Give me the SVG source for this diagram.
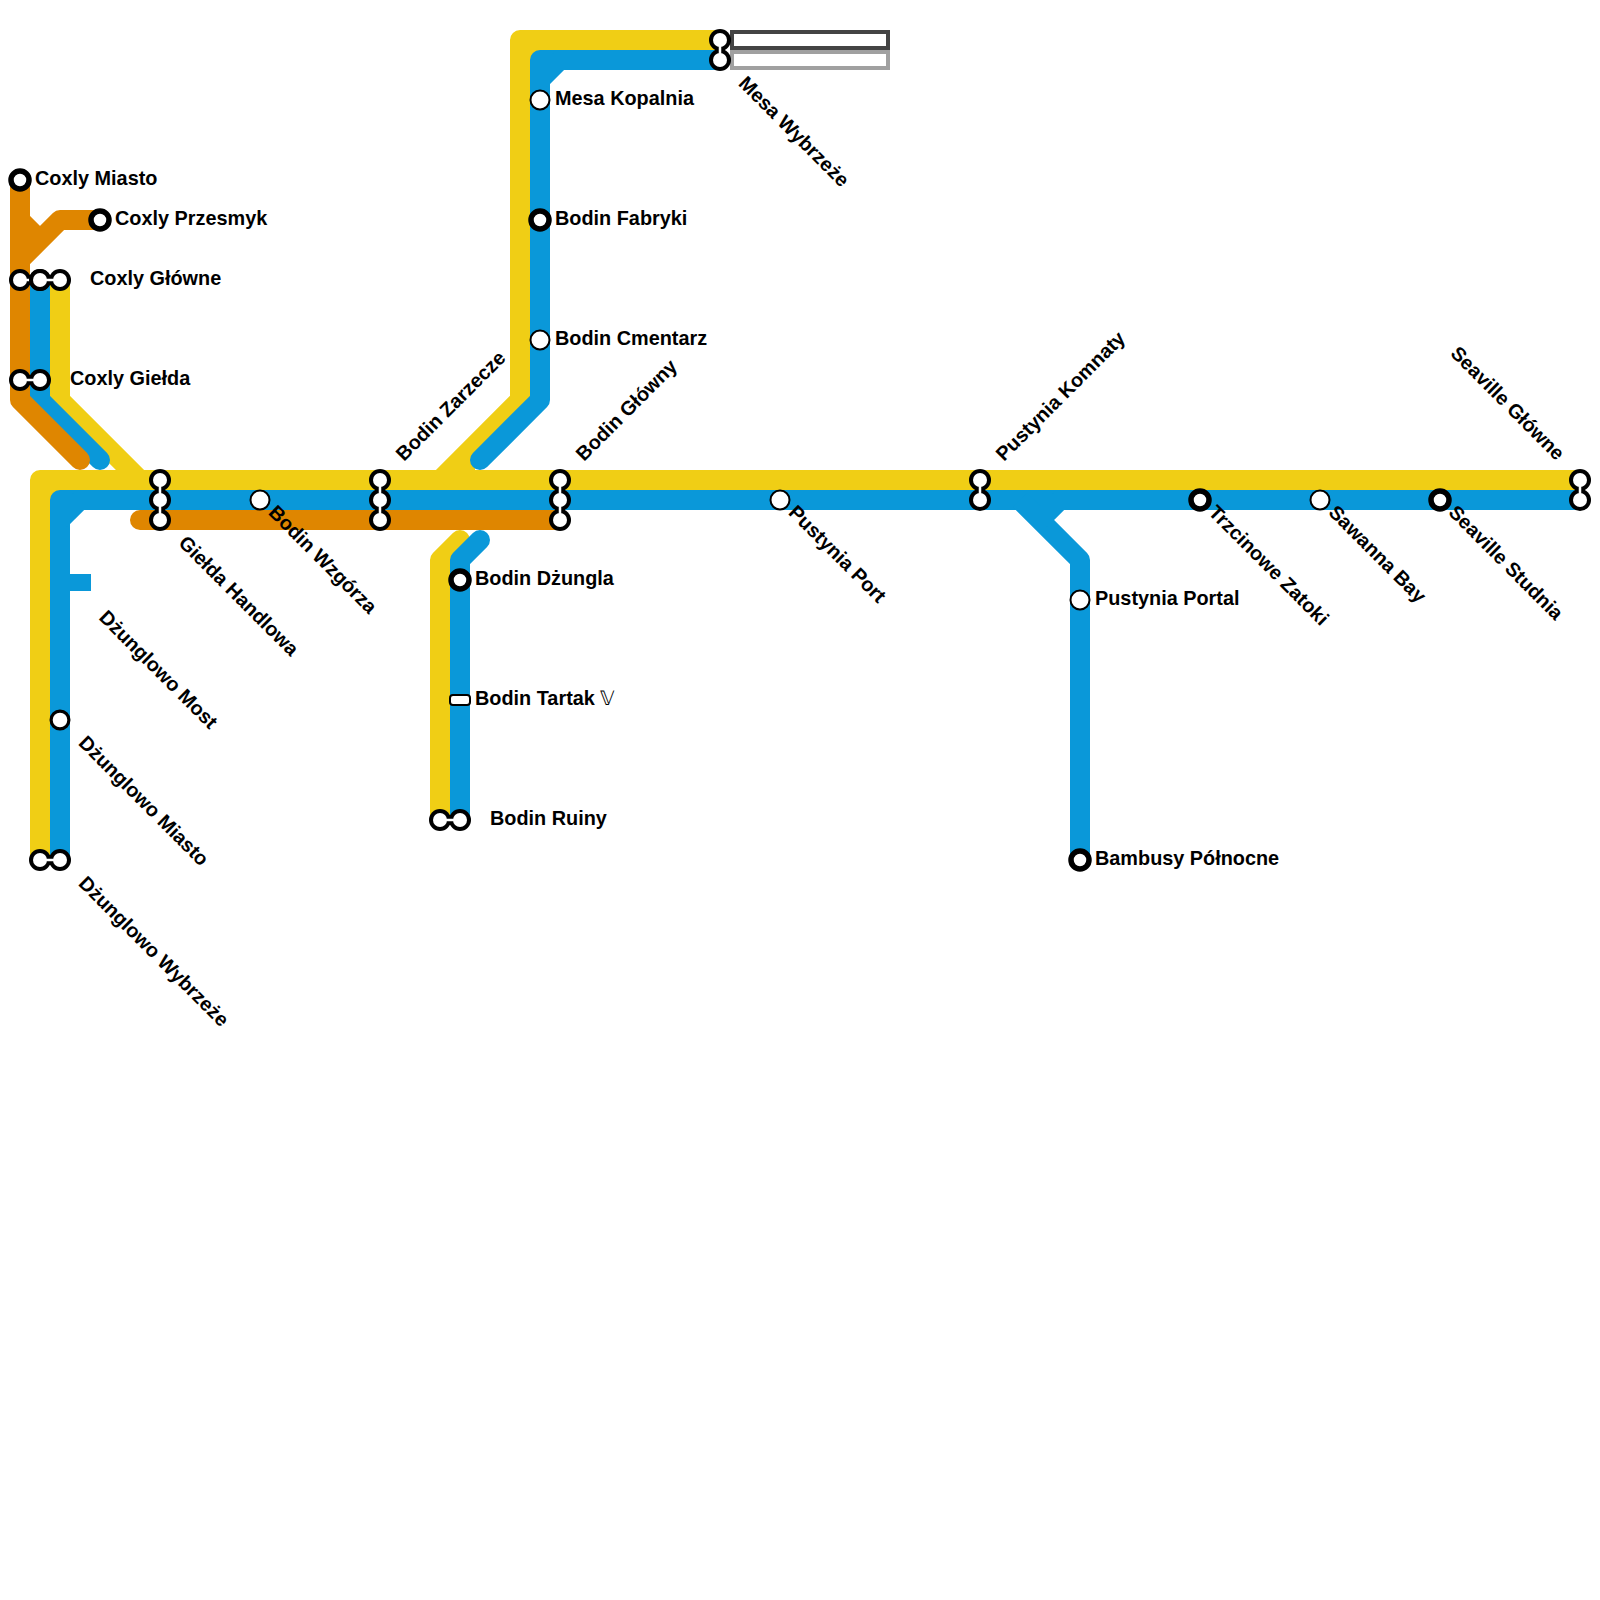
<svg xmlns="http://www.w3.org/2000/svg" width="1600" height="1600" viewBox="0 0 1600 1600">
<style>
text{font-family:"Liberation Sans",Arial,sans-serif;font-weight:700;font-size:19.85px;fill:#000}
.l{fill:none;stroke-width:20;stroke-linejoin:round}
.r{stroke-linecap:round}
.y{stroke:#f0ce15}.b{stroke:#0a98d9}.o{stroke:#df8600}
.s{fill:#fff;stroke:#000;stroke-width:2}
.m{fill:#fff;stroke:#000;stroke-width:3.2}
.t{fill:#fff;stroke:#000;stroke-width:5.5}
.ko{fill:none;stroke:#000;stroke-width:10}
.ki{fill:none;stroke:#fff;stroke-width:2.5}
.co{fill:#000}
.ci{fill:#fff}
</style>
<g id="connectors">
<path class="l y" d="M60 280V400L140 480"/>
<path class="l y" d="M40 860V480H1580"/>
<path class="l y" d="M440 480L520 400V40H720"/>
<path fill="#f0ce15" d="M50 490h10v10H50zM530 50h10v10h-10zM450 480l25-25v25z"/>
<path class="l y r" d="M440 820V560L460 540"/>
<path class="l b" d="M60 860V500H1580"/>
<path class="l b" d="M80 500L60 520"/>
<path class="l b r" d="M40 280V400L100 460"/>
<path class="l b r" d="M480 460L540 400V60H720"/>
<path class="l b" d="M560 60L540 80"/>
<path class="l b r" d="M460 820V560L480 540"/>
<path class="l b" d="M1020 500L1080 560V860"/>
<path class="l b" d="M1060 500L1040 520"/>
<rect x="60" y="574" width="31" height="17" fill="#0a98d9"/>
<path class="l o r" d="M20 180V400L80 460"/>
<path class="l o" d="M20 220L40 240"/>
<path class="l o" d="M20 260L60 220H100"/>
<path class="l o r" d="M140 520H560"/>
</g>
<g id="exits">
<rect x="732" y="32" width="156" height="16" fill="#fff" stroke="#444" stroke-width="4"/>
<rect x="732" y="52" width="156" height="16" fill="#fff" stroke="#a0a0a0" stroke-width="4"/>
</g>
<defs>
<g id="d2h"><circle class="co" r="11"/><circle class="co" cx="20" r="11"/><path class="ko" d="M0 0H20"/><path class="ki" d="M0 0H20"/><circle class="ci" r="7"/><circle class="ci" cx="20" r="7"/></g>
<g id="d2v"><circle class="co" r="11"/><circle class="co" cy="20" r="11"/><path class="ko" d="M0 0V20"/><path class="ki" d="M0 0V20"/><circle class="ci" r="7"/><circle class="ci" cy="20" r="7"/></g>
<g id="d3v"><circle class="co" r="11"/><circle class="co" cy="20" r="11"/><circle class="co" cy="40" r="11"/><path class="ko" d="M0 0V40"/><path class="ki" d="M0 0V40"/><circle class="ci" r="7"/><circle class="ci" cy="20" r="7"/><circle class="ci" cy="40" r="7"/></g>
</defs>
<g id="coxly-miasto"><circle class="t" cx="20" cy="180" r="9"/><text x="35" y="185">Coxly Miasto</text></g>
<g id="coxly-przesmyk"><circle class="t" cx="100" cy="220" r="9"/><text x="115" y="225">Coxly Przesmyk</text></g>
<g id="coxly-glowne"><use href="#d2h" x="20" y="280"/><use href="#d2h" x="40" y="280"/><text x="90" y="285">Coxly Główne</text></g>
<g id="coxly-gielda"><use href="#d2h" x="20" y="380"/><text x="70" y="385">Coxly Giełda</text></g>
<g id="gielda-handlowa"><use href="#d3v" x="160" y="480"/><text transform="translate(177.5 544) rotate(45)">Giełda Handlowa</text></g>
<g id="bodin-wzgorza"><circle class="s" cx="260" cy="500" r="9.5"/><text transform="translate(267.5 513.5) rotate(45)">Bodin Wzgórza</text></g>
<g id="bodin-zarzecze"><use href="#d3v" x="380" y="480"/><text transform="translate(404 462) rotate(-45)">Bodin Zarzecze</text></g>
<g id="bodin-glowny"><use href="#d3v" x="560" y="480"/><text transform="translate(584 462) rotate(-45)">Bodin Główny</text></g>
<g id="pustynia-port"><circle class="s" cx="780" cy="500" r="9.5"/><text transform="translate(787.5 513.5) rotate(45)">Pustynia Port</text></g>
<g id="pustynia-komnaty"><use href="#d2v" x="980" y="480"/><text transform="translate(1004 462) rotate(-45)">Pustynia Komnaty</text></g>
<g id="trzcinowe-zatoki"><circle class="t" cx="1200" cy="500" r="9"/><text transform="translate(1207.5 513.5) rotate(45)">Trzcinowe Zatoki</text></g>
<g id="sawanna-bay"><circle class="s" cx="1320" cy="500" r="9.5"/><text transform="translate(1327.5 513.5) rotate(45)">Sawanna Bay</text></g>
<g id="seaville-studnia"><circle class="t" cx="1440" cy="500" r="9"/><text transform="translate(1447.5 513.5) rotate(45)">Seaville Studnia</text></g>
<g id="seaville-glowne"><use href="#d2v" x="1580" y="480"/><text transform="translate(1449.5 354.5) rotate(45)">Seaville Główne</text></g>
<g id="mesa-wybrzeze"><use href="#d2v" x="720" y="40"/><text transform="translate(737.5 84.5) rotate(45)">Mesa Wybrzeże</text></g>
<g id="mesa-kopalnia"><circle class="s" cx="540" cy="100" r="9.5"/><text x="555" y="105">Mesa Kopalnia</text></g>
<g id="bodin-fabryki"><circle class="t" cx="540" cy="220" r="9"/><text x="555" y="225">Bodin Fabryki</text></g>
<g id="bodin-cmentarz"><circle class="s" cx="540" cy="340" r="9.5"/><text x="555" y="345">Bodin Cmentarz</text></g>
<g id="bodin-dzungla"><circle class="t" cx="460" cy="580" r="9"/><text x="475" y="585">Bodin Dżungla</text></g>
<g id="bodin-tartak"><rect x="450" y="695" width="20" height="10" rx="3" fill="#fff" stroke="#000" stroke-width="2"/><text x="475" y="705">Bodin Tartak <tspan font-weight="400">𝕍</tspan></text></g>
<g id="bodin-ruiny"><use href="#d2h" x="440" y="820"/><text x="490" y="825">Bodin Ruiny</text></g>
<g id="pustynia-portal"><circle class="s" cx="1080" cy="600" r="9.5"/><text x="1095" y="605">Pustynia Portal</text></g>
<g id="bambusy-polnocne"><circle class="t" cx="1080" cy="860" r="9"/><text x="1095" y="865">Bambusy Północne</text></g>
<g id="dzunglowo-most"><text transform="translate(98 618.5) rotate(45)">Dżunglowo Most</text></g>
<g id="dzunglowo-miasto"><circle class="m" cx="60" cy="720" r="8.9"/><text transform="translate(77.5 744) rotate(45)">Dżunglowo Miasto</text></g>
<g id="dzunglowo-wybrzeze"><use href="#d2h" x="40" y="860"/><text transform="translate(77.5 884.5) rotate(45)">Dżunglowo Wybrzeże</text></g>
</svg>
